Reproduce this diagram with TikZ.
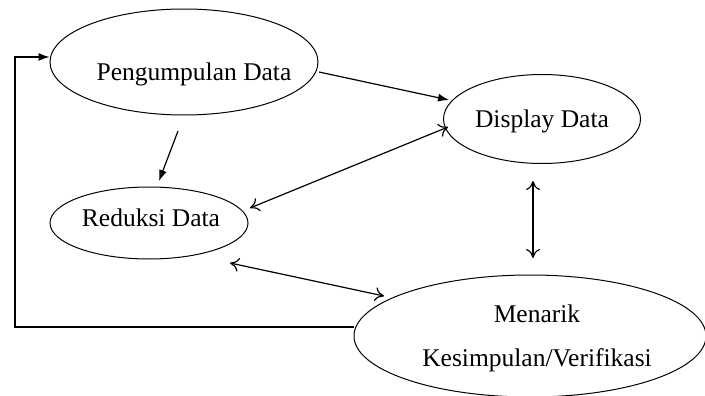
\documentclass[tikz,border=0pt]{standalone}
\usepackage{fontspec}
\setmainfont{Liberation Serif}
\usetikzlibrary{shapes.geometric,arrows.meta}
\begin{document}
\begin{tikzpicture}[x=1pt,y=-1pt,
  ell/.style={draw,ellipse,line width=1pt,inner sep=0pt},
  lbl/.style={font=\fontsize{25.5}{30}\selectfont,inner sep=0pt},
  ln/.style={line width=1.2pt},
  fa/.style={ln,-{Latex[length=11pt,width=8pt]}},
  da/.style={ln,{To[length=9pt,width=14pt]}-{To[length=9pt,width=14pt]}}]
\useasboundingbox (0,0) rectangle (705,396);
% ellipses
\node[ell,minimum width=268pt,minimum height=106pt] (pd) at (184,62) {};
\node[ell,minimum width=197pt,minimum height=89pt] (dd) at (542,119) {};
\node[ell,minimum width=198pt,minimum height=72pt] (rd) at (149,223) {};
\node[ell,minimum width=352pt,minimum height=122pt] (mk) at (530,336) {};
% labels
\node[lbl] (tpd) at (194,74) {Pengumpulan Data};
\node[lbl] (tdd) at (542,121) {Display Data};
\node[lbl] (trd) at (151,218) {Reduksi Data};
\node[lbl] (tmk1) at (537,314) {Menarik};
\node[lbl] (tmk2) at (537,360) {Kesimpulan/Verifikasi};
% connector end points
\coordinate (a1) at (319,72);
\coordinate (a2) at (449,100);
\coordinate (b1) at (178,131);
\coordinate (b2) at (159,181);
\coordinate (c1) at (448,127);
\coordinate (c2) at (250,208);
\coordinate (d1) at (533,181);
\coordinate (d2) at (533,258);
\coordinate (e1) at (230,263);
\coordinate (e2) at (384,296);
\coordinate (f1) at (15,327);
\coordinate (f2) at (15,57);
% connectors
\draw[fa] (a1) -- (a2);
\draw[fa] (b1) -- (b2);
\draw[da] (c1) -- (c2);
\draw[da] (d1) -- (d2);
\draw[da] (e1) -- (e2);
\draw[fa] (mk.west |- f1) -- (f1) -- (f2) -- (f2 -| pd.west);
\end{tikzpicture}
\end{document}
